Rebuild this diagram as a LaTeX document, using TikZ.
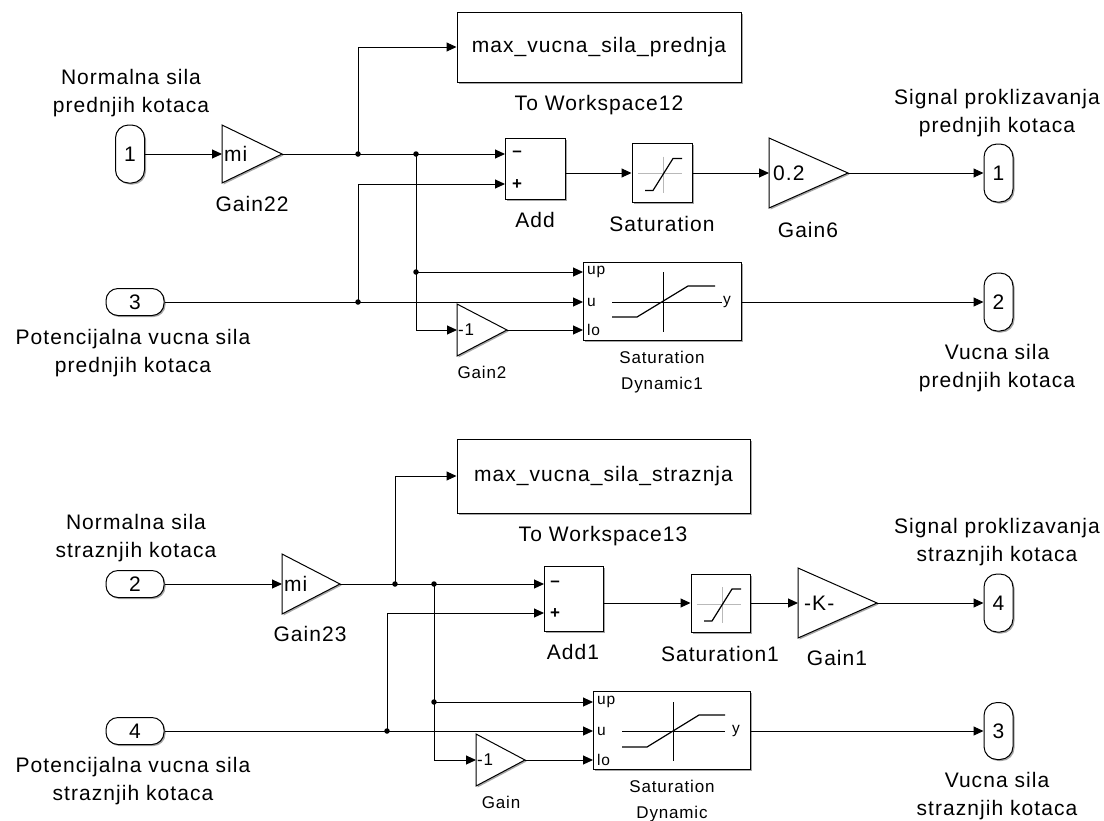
\documentclass[tikz,border=0pt]{standalone}
\usepackage{fontspec}
\setmainfont{Liberation Sans}[LetterSpace=5]
\usetikzlibrary{arrows.meta,shadows}
\newcommand\fbig{\fontsize{21}{28}\selectfont}
\newcommand\fsmall{\fontsize{17}{26}\selectfont}
\newcommand\ftiny{\fontsize{15.5}{18}\selectfont}
\begin{document}
\begin{tikzpicture}[x=1pt,y=-1pt,
  shad/.style={drop shadow={shadow xshift=1.5pt,shadow yshift=-1.5pt,opacity=0.35,fill=black}},
  blk/.style={draw,fill=white,line width=1pt,inner sep=0pt,shad},
  vport/.style={blk,minimum width=29pt,minimum height=58pt,rounded corners=13pt,font=\fbig},
  hport/.style={blk,minimum width=58pt,minimum height=27pt,rounded corners=12pt,font=\fbig},
  lbl/.style={font=\fbig,align=center,inner sep=0pt},
  slbl/.style={font=\fsmall,align=center,inner sep=0pt},
  intxt/.style={font=\ftiny,inner sep=0pt,anchor=west},
  gtxt/.style={font=\fbig,inner sep=0pt,anchor=west},
  sign/.style={font=\fsmall\bfseries,inner sep=0pt},
  line/.style={line width=1pt},
  wire/.style={line width=1pt,-{Triangle[length=10pt,width=9pt]}},
  dot/.style={circle,fill,inner sep=0pt,minimum size=5.5pt},
  axis/.style={line width=1pt,gray!55},
  curve/.style={line width=1.2pt}
]
\useasboundingbox (0,0) rectangle (1104,820);

% ================= TOP SECTION =================
\node[lbl] (lN1) at (131,93) {Normalna sila\\prednjih kotaca};
\node[lbl] (lP1) at (133,353) {Potencijalna vucna sila\\prednjih kotaca};
\node[vport] (in1) at (130,154) {1};
\node[hport] (in3) at (135,302) {3};

% Gain22
\coordinate (g22i) at (222,154); \coordinate (g22o) at (282,154);
\draw[blk] (222,125) -- (282,154) -- (222,183) -- cycle;
\node[gtxt] (g22t) at (224,154) {m\kern1pt i};
\node[lbl] (g22l) at (252,204) {Gain22};

% To Workspace12
\node[blk,minimum width=284pt,minimum height=70pt,font=\fbig] (tw12) at (599,47) {max\_vucna\_sila\_prednja};
\node[lbl] (tw12l) at (599,105) {To Workspace12};

% Add
\node[blk,minimum width=60pt,minimum height=61pt] (add) at (535,168.5) {};
\coordinate (addm) at (505,154); \coordinate (addp) at (505,184); \coordinate (addo) at (565,173);
\node[sign] (addms) at (517,154) {\textendash};
\node[sign] (addps) at (517,185) {+};
\node[lbl] (addl) at (535,220) {Add};

% Saturation
\node[blk,minimum width=60pt,minimum height=59pt] (sat) at (662,173) {};
\begin{scope}[shift={(632,143.5)}]
  \draw[axis] (6,30) -- (50,30); \draw[axis] (31,13) -- (31,49);
  \draw[curve] (13,47) -- (21,47) -- (41,15) -- (50,15);
\end{scope}
\node[lbl] (satl) at (662,224) {Saturation};

% Gain6
\coordinate (g6i) at (769,173); \coordinate (g6o) at (848,173);
\draw[blk] (769,138) -- (848,173) -- (769,208) -- cycle;
\node[gtxt] (g6t) at (773,173) {0.2};
\node[lbl] (g6l) at (808,230) {Gain6};

% Outport 1
\node[vport] (out1) at (998.5,173) {1};
\node[lbl] (lS1) at (997,113) {Signal proklizavanja\\prednjih kotaca};

% Gain2
\coordinate (g2i) at (457,330); \coordinate (g2o) at (507,330);
\draw[blk] (457,304) -- (507,330) -- (457,356) -- cycle;
\node[font=\fsmall,inner sep=0pt,anchor=west] (g2t) at (458,330) {-1};
\node[slbl] (g2l) at (482,372) {Gain2};

% Saturation Dynamic1
\node[blk,minimum width=158pt,minimum height=78pt] (sd1) at (662,301) {};
\coordinate (sd1up) at (583,272); \coordinate (sd1u) at (583,302);
\coordinate (sd1lo) at (583,330); \coordinate (sd1y) at (741,302);
\node[intxt] (sd1t1) at (587,272) {up};
\node[intxt] (sd1t2) at (587,302) {u};
\node[intxt] (sd1t3) at (587,330) {lo};
\node[font=\ftiny,inner sep=0pt] (sd1t4) at (727,302) {y};
\draw[line] (612,302) -- (722,302);
\draw[line] (663,272) -- (663,332);
\draw[curve] (612,317) -- (637,317) -- (688,286) -- (715,286);
\node[slbl] (sd1l) at (662,372) {Saturation\\Dynamic1};

% Outport 2
\node[vport] (out2) at (998.5,302) {2};
\node[lbl] (lV1) at (997,368) {Vucna sila\\prednjih kotaca};

% wires top
\coordinate (b1) at (358,154); \coordinate (b2) at (416,154);
\coordinate (b3) at (416,272); \coordinate (b4) at (358,302);
\draw[wire] (in1.east) -- (g22i);
\draw[wire] (g22o) -- (addm);
\draw[wire] (b1) |- (tw12.west);
\draw[wire] (b2) |- (g2i);
\draw[wire] (b3) -- (sd1up);
\draw[wire] (in3.east) -- (sd1u);
\draw[wire] (b4) |- (addp);
\draw[wire] (g2o) -- (sd1lo);
\draw[wire] (addo) -- (sat.west);
\draw[wire] (sat.east) -- (g6i);
\draw[wire] (g6o) -- (out1.west);
\draw[wire] (sd1y) -- (out2.west);
\foreach \p in {b1,b2,b3,b4} \node[dot] at (\p) {};

% ================= BOTTOM SECTION =================
\node[lbl] (lN2) at (136,538) {Normalna sila\\straznjih kotaca};
\node[lbl] (lP2) at (133,781.5) {Potencijalna vucna sila\\straznjih kotaca};
\node[hport] (in2) at (135,584) {2};
\node[hport] (in4) at (135,731) {4};

% Gain23
\coordinate (g23i) at (282,584); \coordinate (g23o) at (340,584);
\draw[blk] (282,554) -- (340,584) -- (282,614) -- cycle;
\node[gtxt] (g23t) at (284,584) {m\kern1pt i};
\node[lbl] (g23l) at (310,634) {Gain23};

% To Workspace13
\node[blk,minimum width=293pt,minimum height=74pt,font=\fbig] (tw13) at (603.5,476) {max\_vucna\_sila\_straznja};
\node[lbl] (tw13l) at (603,536) {To Workspace13};

% Add1
\node[blk,minimum width=59pt,minimum height=65pt] (add1) at (573.5,598.5) {};
\coordinate (add1m) at (544,584); \coordinate (add1p) at (544,613); \coordinate (add1o) at (603,603);
\node[sign] (add1ms) at (555,584) {\textendash};
\node[sign] (add1ps) at (555,614) {+};
\node[lbl] (add1l) at (573,652) {Add1};

% Saturation1
\node[blk,minimum width=59pt,minimum height=58pt] (sat1) at (720.5,603) {};
\begin{scope}[shift={(691,574)}]
  \draw[axis] (6,30) -- (50,30); \draw[axis] (31,13) -- (31,49);
  \draw[curve] (13,47) -- (21,47) -- (41,15) -- (50,15);
\end{scope}
\node[lbl] (sat1l) at (720,654) {Saturation1};

% Gain1
\coordinate (g1i) at (798,603); \coordinate (g1o) at (877,603);
\draw[blk] (798,568) -- (877,603) -- (798,638) -- cycle;
\node[gtxt] (g1t) at (804,603) {-K-};
\node[lbl] (g1l) at (837,658) {Gain1};

% Outport 4
\node[vport] (out4) at (998.5,603) {4};
\node[lbl] (lS2) at (997,542) {Signal proklizavanja\\straznjih kotaca};

% Gain
\coordinate (gi) at (476,760); \coordinate (go) at (525,760);
\draw[blk] (476,734) -- (525,760) -- (476,786) -- cycle;
\node[font=\fsmall,inner sep=0pt,anchor=west] (gt) at (477,760) {-1};
\node[slbl] (gl) at (501,802) {Gain};

% Saturation Dynamic
\node[blk,minimum width=157pt,minimum height=78pt] (sd) at (671.5,730) {};
\coordinate (sdup) at (593,702); \coordinate (sdu) at (593,731);
\coordinate (sdlo) at (593,760); \coordinate (sdy) at (750,731);
\node[intxt] (sdt1) at (597,702) {up};
\node[intxt] (sdt2) at (597,731) {u};
\node[intxt] (sdt3) at (597,760) {lo};
\node[font=\ftiny,inner sep=0pt] (sdt4) at (736,731) {y};
\draw[line] (622,731) -- (725,731);
\draw[line] (673,702) -- (673,761);
\draw[curve] (622,747) -- (647,747) -- (699,715) -- (725,715);
\node[slbl] (sdl) at (672,801) {Saturation\\Dynamic};

% Outport 3
\node[vport,minimum height=57pt] (out3) at (998.5,731) {3};
\node[lbl] (lV2) at (997,796) {Vucna sila\\straznjih kotaca};

% wires bottom
\coordinate (c1) at (395,584); \coordinate (c2) at (434,584);
\coordinate (c3) at (434,702); \coordinate (c4) at (387,731);
\draw[wire] (in2.east) -- (g23i);
\draw[wire] (g23o) -- (add1m);
\draw[wire] (c1) |- (tw13.west);
\draw[wire] (c2) |- (gi);
\draw[wire] (c3) -- (sdup);
\draw[wire] (in4.east) -- (sdu);
\draw[wire] (c4) |- (add1p);
\draw[wire] (go) -- (sdlo);
\draw[wire] (add1o) -- (sat1.west);
\draw[wire] (sat1.east) -- (g1i);
\draw[wire] (g1o) -- (out4.west);
\draw[wire] (sdy) -- (out3.west);
\foreach \p in {c1,c2,c3,c4} \node[dot] at (\p) {};
\end{tikzpicture}
\end{document}
